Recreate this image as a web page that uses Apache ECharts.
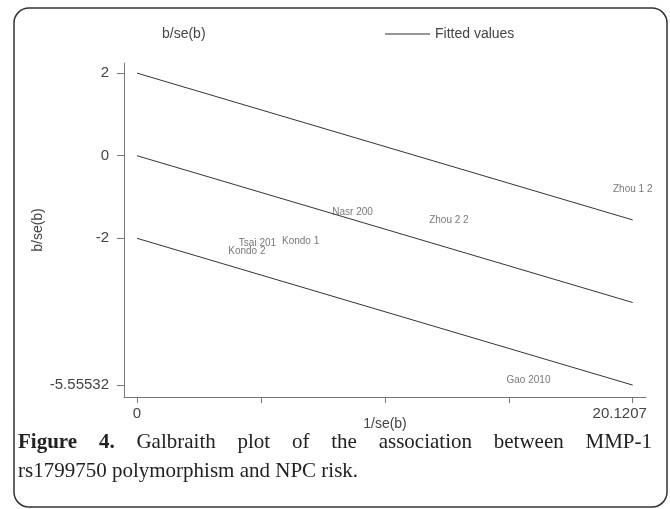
<!DOCTYPE html>
<html>
<head>
<meta charset="utf-8">
<script src="https://cdn.jsdelivr.net/npm/echarts@6/dist/echarts.min.js"></script>
<style>
html, body { margin: 0; padding: 0; background: #fff; }
#chart { width: 670px; height: 509px; }
</style>
</head>
<body>
<div id="chart"></div>
<script>
// studies (labels drawn at their points)
var studyNames = ['Zhou 1 2', 'Nasr 200', 'Zhou 2 2', 'Tsai 201', 'Kondo 1', 'Kondo 2', 'Gao 2010'];
var precision = [20.1207, 8.75, 12.66, 4.89, 6.64, 4.46, 15.89];   // 1/se(b)
var zScores = [-0.81, -1.38, -1.56, -2.11, -2.06, -2.32, -5.43];    // b/se(b)

// fitted line and the +/-2 band, end points
var fitX = [0, 20.1207];
var upperLine = [2, -1.55532];
var fittedLine = [0, -3.55532];
var lowerLine = [-2, -5.55532];

var xTicks = [0, 5.030175, 10.06035, 15.090525, 20.1207];
var xTickLabels = [0, 20.1207];
var yTicks = [2, 0, -2, -5.55532];

var captionBold = 'Figure 4.';
var captionLine1 = 'Galbraith plot of the association between MMP-1';
var captionLine2 = 'rs1799750 polymorphism and NPC risk.';

function pairs(xs, ys) {
    var out = [];
    for (var i = 0; i < xs.length; i++) {
        out.push([xs[i], ys[i]]);
    }
    return out;
}

// justify caption line 1 across the box
function justifiedWords(boldWord, rest, left, right, y, font, boldFont) {
    var ctx = document.createElement('canvas').getContext('2d');
    var words = [];
    boldWord.split(' ').forEach(function (w) { words.push({ t: w, b: true }); });
    rest.split(' ').forEach(function (w) { words.push({ t: w, b: false }); });
    var total = 0;
    words.forEach(function (w) {
        ctx.font = w.b ? boldFont : font;
        w.w = ctx.measureText(w.t).width;
        total += w.w;
    });
    var gap = (right - left - total) / (words.length - 1);
    var x = left;
    return words.map(function (w) {
        var el = {
            type: 'text', left: x, top: y,
            style: { text: w.t, font: w.b ? boldFont : font, fill: '#222' }
        };
        x += w.w + gap;
        return el;
    });
}

var chart = echarts.init(document.getElementById('chart'));

var captionFont = '21px "Liberation Serif", "Times New Roman", serif';
var captionBoldFont = 'bold 21px "Liberation Serif", "Times New Roman", serif';

var graphics = [{
    type: 'rect',
    shape: { x: 14, y: 8, width: 653, height: 499, r: 15 },
    style: { fill: 'none', stroke: '#333', lineWidth: 1.5 },
    silent: true
}];
graphics = graphics.concat(justifiedWords(captionBold, captionLine1, 18, 652, 432, captionFont, captionBoldFont));
graphics.push({
    type: 'text', left: 18, top: 461,
    style: { text: captionLine2, font: captionFont, fill: '#222' }
});

var lineStyle = { color: '#333', width: 1 };

chart.setOption({
    animation: false,
    textStyle: { fontFamily: '"Liberation Sans", Arial, sans-serif' },
    graphic: graphics,
    legend: [{
        left: 152, top: 22,
        data: [{ name: 'b/se(b)', icon: 'none' }],
        itemWidth: 0, itemGap: 0,
        textStyle: { fontSize: 14, color: '#444' }
    }, {
        left: 380, top: 22,
        data: ['Fitted values'],
        icon: 'rect', itemWidth: 45, itemHeight: 1,
        textStyle: { fontSize: 14, color: '#444' }
    }],
    grid: { left: 124, right: 24, top: 63, bottom: 112, containLabel: false },
    xAxis: {
        type: 'value',
        min: -0.528, max: 20.66,
        name: '1/se(b)', nameLocation: 'middle', nameGap: 20, nameMoveOverlap: false,
        nameTextStyle: { fontSize: 14, color: '#444' },
        axisLine: { onZero: false, lineStyle: { color: '#777' } },
        axisTick: { show: true, length: 6, customValues: xTicks, lineStyle: { color: '#777' } },
        axisLabel: {
            customValues: xTickLabels, fontSize: 15, color: '#444', margin: 9,
            formatter: function (v) {
                return v === 0 ? '0' : '{r|' + v + '}';
            },
            rich: { r: { fontSize: 15, color: '#444', padding: [0, 26, 0, 0] } }
        },
        splitLine: { show: false }
    },
    yAxis: {
        type: 'value',
        min: -5.843, max: 2.245,
        name: 'b/se(b)', nameLocation: 'middle', nameGap: 79, nameMoveOverlap: false,
        nameTextStyle: { fontSize: 14, color: '#444' },
        axisLine: { show: true, onZero: false, lineStyle: { color: '#777' } },
        axisTick: { show: true, length: 7, customValues: yTicks, lineStyle: { color: '#777' } },
        axisLabel: { customValues: yTicks, fontSize: 15, color: '#444', margin: 15 },
        splitLine: { show: false }
    },
    series: [{
        name: 'b/se(b)',
        type: 'scatter',
        data: pairs(precision, zScores),
        symbolSize: 2,
        itemStyle: { color: 'rgba(0,0,0,0)' },
        label: {
            show: true, position: 'inside', fontSize: 10, color: '#555',
            formatter: function (p) { return studyNames[p.dataIndex]; }
        },
        z: 5
    }, {
        name: 'Fitted values', type: 'line', data: pairs(fitX, upperLine),
        symbol: 'none', lineStyle: lineStyle, itemStyle: { color: '#333' }
    }, {
        name: 'Fitted values', type: 'line', data: pairs(fitX, fittedLine),
        symbol: 'none', lineStyle: lineStyle, itemStyle: { color: '#333' }
    }, {
        name: 'Fitted values', type: 'line', data: pairs(fitX, lowerLine),
        symbol: 'none', lineStyle: lineStyle, itemStyle: { color: '#333' }
    }]
});
</script>
</body>
</html>
